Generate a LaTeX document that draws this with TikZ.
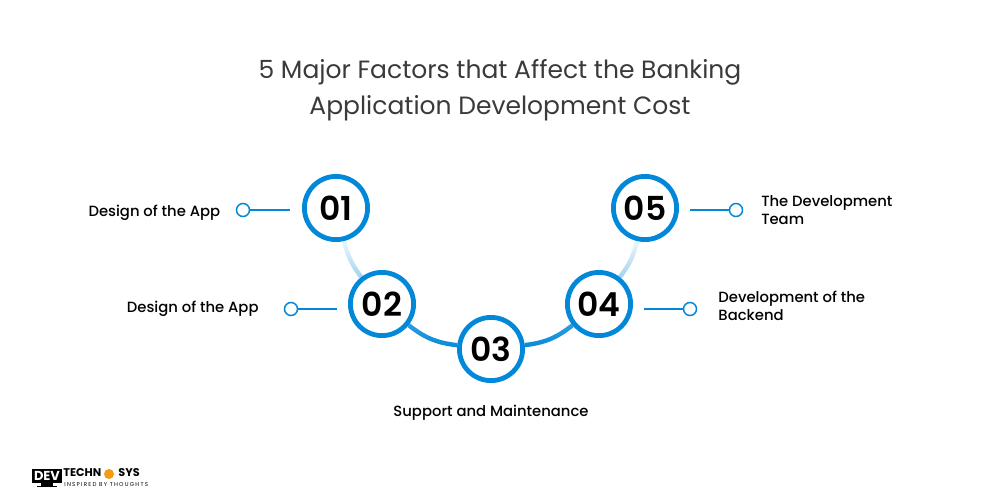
\documentclass[tikz,border=0pt]{standalone}
\usepackage{fontspec}
\setmainfont{Poppins}
\newfontfamily\medfont{Poppins Medium}
\newfontfamily\semifont{Poppins SemiBold}
\usetikzlibrary{positioning,fadings}
\definecolor{ringBlue}{HTML}{0288D9}
\definecolor{titleGrey}{HTML}{3A3A3A}
\definecolor{logoOrange}{HTML}{F39C12}
\tikzfading[name=fadeUpper, top color=transparent!90, bottom color=transparent!65]
\tikzfading[name=fadeLower, top color=transparent!20, bottom color=transparent!0]
\tikzset{
  numbox/.style={on grid,circle,draw=ringBlue,line width=2.4pt,fill=white,minimum size=31.6pt,inner sep=0pt,font=\fontsize{16.5}{17}\semifont},
  dotbox/.style={on grid,circle,draw=ringBlue,line width=0.75pt,fill=white,minimum size=6.5pt,inner sep=0pt},
  labeltext/.style={inner sep=0pt,align=left,font=\fontsize{7.4}{9}\medfont},
  leader/.style={ringBlue,line width=0.75pt},
  arcline/.style={ringBlue,line width=2.2pt}
}
\begin{document}
\begin{tikzpicture}[x=0.5pt,y=0.5pt]
\useasboundingbox (0,0) rectangle (1000,500);
%the title
\node [text=titleGrey,align=center,font=\fontsize{12.5}{18}\selectfont] (titleText) at (500,410) {5 Major Factors that Affect the Banking\\Application Development Cost};
%the nodes
\node [numbox] (num03) at (491,151) {03};
\node [numbox,above left=22.5pt and 54.5pt of num03] (num02) {02};
\node [numbox,above right=22.5pt and 54pt of num03] (num04) {04};
\node [numbox,above left=48pt and 23pt of num02] (num01) {01};
\node [numbox,above right=48pt and 23pt of num04] (num05) {05};
\node [dotbox,below left=1pt and 46.5pt of num01] (dot01) {};
\node [dotbox,below left=2.5pt and 45.5pt of num02] (dot02) {};
\node [dotbox,below right=2.5pt and 45.5pt of num04] (dot04) {};
\node [dotbox,below right=1pt and 45.5pt of num05] (dot05) {};
\coordinate [on grid,right=23.5pt of dot01] (end01);
\coordinate [on grid,right=23pt of dot02] (end02);
\coordinate [on grid,left=23pt of dot04] (end04);
\coordinate [on grid,left=23pt of dot05] (end05);
%the labels
\node [labeltext,left=7.6pt of dot01,yshift=-1.2pt] (text01) {Design of the App};
\node [labeltext,left=12.4pt of dot02] (text02) {Design of the App};
\node [labeltext,below=11pt of num03] (text03) {Support and Maintenance};
\node [labeltext,right=10.4pt of dot04,yshift=1.5pt] (text04) {Development of the\\Backend};
\node [labeltext,right=8.8pt of dot05] (text05) {The Development\\Team};
%drawings of lines
\draw[leader] (dot01) -- (end01);
\draw[leader] (dot02) -- (end02);
\draw[leader] (dot04) -- (end04);
\draw[leader] (dot05) -- (end05);
\begin{scope}[transparency group]
\path [scope fading=fadeUpper] (300,255) rectangle (680,225);
\draw[arcline] (num01) to[bend right=12] (num02);
\draw[arcline] (num04) to[bend right=12] (num05);
\end{scope}
\begin{scope}[transparency group]
\path [scope fading=fadeLower] (380,180) rectangle (600,150);
\draw[arcline] (num02) to[bend right=16] (num03);
\draw[arcline] (num03) to[bend right=16] (num04);
\end{scope}
%the logo
\fill [black] (32,31) rectangle (62,17);
\fill [black] (41,17) rectangle (53,14);
\fill [black] (37,14) rectangle (57,13);
\node [text=white,inner sep=0pt,font=\fontsize{6.5}{6.5}\selectfont\bfseries] (logoDev) at (47,24) {DEV};
\node [inner sep=0pt,anchor=west,font=\fontsize{5.6}{6}\selectfont\bfseries] (logoTech) at (63,27) {TECHN};
\node [fill=logoOrange,circle,minimum size=5pt,inner sep=0pt] (logoGear) at (109,26) {};
\node [inner sep=0pt,anchor=west,font=\fontsize{5.6}{6}\selectfont\bfseries] (logoSys) at (118,27) {SYS};
\node [inner sep=0pt,anchor=west,font=\fontsize{2.8}{3}\selectfont\addfontfeature{LetterSpace=22}] (logoTag) at (64,15) {INSPIRED BY THOUGHTS};
\end{tikzpicture}
\end{document}
